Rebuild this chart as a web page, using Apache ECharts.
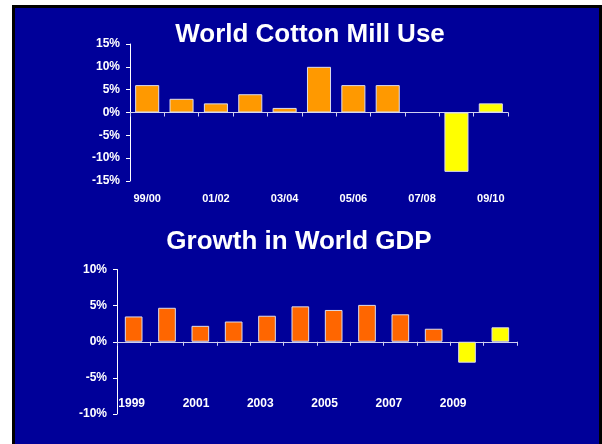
<!DOCTYPE html>
<html>
<head>
<meta charset="utf-8">
<script src="https://cdn.jsdelivr.net/npm/echarts@6/dist/echarts.min.js"></script>
<style>
  html, body { margin: 0; padding: 0; background: #ffffff; width: 602px; height: 444px; overflow: hidden; }
  #frame { position: absolute; left: 12px; top: 5px; width: 584px; height: 460px;
           border-left: 3px solid #000; border-top: 3px solid #000; border-right: 3px solid #000;
           background: #000099; }
  #chart { position: absolute; left: 0; top: 0; width: 602px; height: 444px; }
</style>
</head>
<body>
<div id="frame"></div>
<div id="chart"></div>
<script>
// ---- data ----
const cottonTitle = 'World Cotton Mill Use';
const cottonCategories = ['99/00','00/01','01/02','02/03','03/04','04/05','05/06','06/07','07/08','08/09','09/10'];
const cottonValues = [6, 3, 2, 4, 1, 10, 6, 6, null, -13, 2];
const cottonProjected = ['08/09', '09/10'];
const cottonTicks = [-15, -10, -5, 0, 5, 10, 15];

const gdpTitle = 'Growth in World GDP';
const gdpCategories = ['1999','2000','2001','2002','2003','2004','2005','2006','2007','2008','2009','2010'];
const gdpValues = [3.5, 4.7, 2.2, 2.8, 3.6, 4.9, 4.4, 5.1, 3.8, 1.8, -2.9, 2.0];
const gdpProjected = ['2009', '2010'];
const gdpTicks = [-10, -5, 0, 5, 10];

// ---- styles ----
const FONT = '"Liberation Sans", Arial, Helvetica, sans-serif';
const YELLOW = '#FFFF00';
const barBorder = { borderColor: '#dcdcec', borderWidth: 1 };

function barData(cats, vals, projected, baseColor) {
  return vals.map((v, i) => ({
    value: v,
    itemStyle: Object.assign({ color: projected.indexOf(cats[i]) >= 0 ? YELLOW : baseColor }, barBorder)
  }));
}

const lineWhite = { color: '#ffffff', width: 1 };
const lineLav = { color: '#d0d0f0', width: 1 };

function mainX(gridIndex, cats) {
  return {
    type: 'category', gridIndex: gridIndex, data: cats, boundaryGap: true,
    axisLine: { show: true, onZero: true, lineStyle: lineLav },
    axisTick: { show: true, interval: 0, length: 4, lineStyle: lineLav },
    axisLabel: { show: false }, splitLine: { show: false }
  };
}
function labelX(gridIndex, cats, margin, size) {
  return {
    type: 'category', gridIndex: gridIndex, data: cats, position: 'bottom',
    axisLine: { show: false, onZero: false }, axisTick: { show: false }, splitLine: { show: false },
    axisLabel: { show: true, interval: 1, margin: margin, color: '#ffffff', fontFamily: FONT,
                 fontWeight: 'bold', fontSize: size }
  };
}
function valY(gridIndex, ticks) {
  return {
    type: 'value', gridIndex: gridIndex, min: ticks[0], max: ticks[ticks.length - 1],
    interval: ticks[1] - ticks[0],
    axisLine: { show: true, lineStyle: lineWhite },
    axisTick: { show: true, length: 4, lineStyle: lineWhite },
    splitLine: { show: false },
    axisLabel: { margin: 10, color: '#ffffff', fontFamily: FONT, fontWeight: 'bold', fontSize: 12,
                 formatter: '{value}%' }
  };
}

const chart = echarts.init(document.getElementById('chart'), null, { renderer: 'canvas' });
chart.setOption({
  backgroundColor: 'transparent',
  animation: false,
  graphic: [
    { type: 'text', x: 310, y: 35, style: { text: cottonTitle, fill: '#ffffff',
      font: 'bold 26px ' + FONT, textAlign: 'center', textVerticalAlign: 'middle' } },
    { type: 'text', x: 299, y: 242, style: { text: gdpTitle, fill: '#ffffff',
      font: 'bold 26px ' + FONT, textAlign: 'center', textVerticalAlign: 'middle' } }
  ],
  grid: [
    { left: 130, top: 44, width: 378, height: 137, containLabel: false },
    { left: 117, top: 269.5, width: 400, height: 144.5, containLabel: false },
    { left: 115.6, top: 300, width: 385.8, height: 98, containLabel: false }
  ],
  xAxis: [
    mainX(0, cottonCategories),
    labelX(0, cottonCategories, 12, 11),
    mainX(1, gdpCategories),
    labelX(2, gdpCategories, 0, 12)
  ],
  yAxis: [
    valY(0, cottonTicks),
    valY(1, gdpTicks),
    { type: 'value', gridIndex: 2, show: false, min: 0, max: 1 }
  ],
  series: [
    { type: 'bar', xAxisIndex: 0, yAxisIndex: 0, barWidth: '70%',
      data: barData(cottonCategories, cottonValues, cottonProjected, '#FF9900') },
    { type: 'bar', xAxisIndex: 2, yAxisIndex: 1, barWidth: '53%',
      data: barData(gdpCategories, gdpValues, gdpProjected, '#FF6600') }
  ]
});
</script>
</body>
</html>
